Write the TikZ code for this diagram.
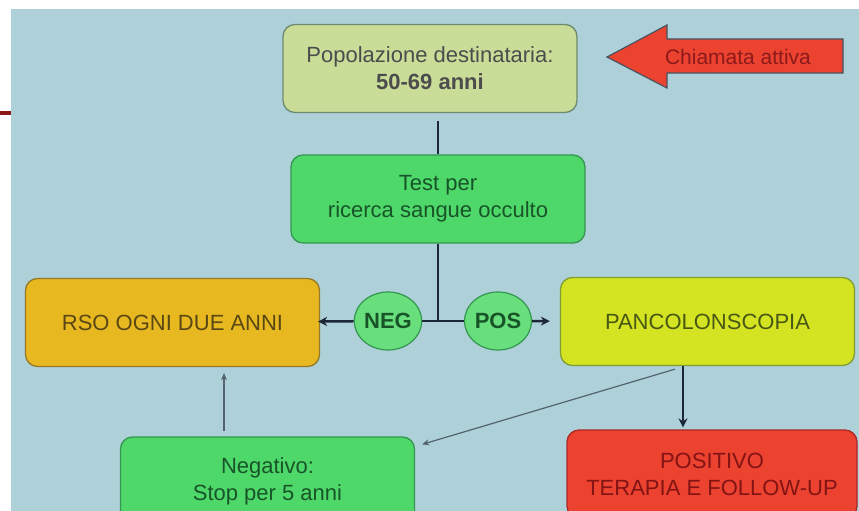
\documentclass[tikz,border=0pt]{standalone}
\usepackage{fontspec}
\setmainfont{Liberation Sans}
\usetikzlibrary{shapes.geometric,arrows.meta}
\definecolor{slide}{RGB}{174,209,217}
\definecolor{edge}{RGB}{28,40,56}
\definecolor{thinedge}{RGB}{84,98,110}
\definecolor{popfill}{RGB}{201,221,152}
\definecolor{popdraw}{RGB}{110,138,110}
\definecolor{greenfill}{RGB}{78,216,106}
\definecolor{greendraw}{RGB}{52,150,80}
\definecolor{greentext}{RGB}{24,84,40}
\definecolor{rsofill}{RGB}{232,184,32}
\definecolor{rsodraw}{RGB}{150,120,40}
\definecolor{rsotext}{RGB}{90,72,20}
\definecolor{pancofill}{RGB}{212,228,34}
\definecolor{pancodraw}{RGB}{130,156,50}
\definecolor{pancotext}{RGB}{72,88,20}
\definecolor{redfill}{RGB}{236,66,48}
\definecolor{reddraw}{RGB}{170,40,40}
\definecolor{redtext}{RGB}{130,20,20}
\definecolor{circlefill}{RGB}{104,222,124}
\definecolor{darkred}{RGB}{140,26,26}
\tikzset{
  box/.style={draw,line width=1.3pt,rounded corners=12pt,minimum width=294pt,minimum height=88pt,align=center,inner sep=0pt,font=\fontsize{22}{27}\selectfont},
  sign/.style={shape=ellipse,draw=greendraw,fill=circlefill,line width=1.2pt,minimum width=67pt,minimum height=58pt,inner sep=0pt,text=greentext,font=\fontsize{22}{27}\selectfont\bfseries},
  link/.style={draw=edge,line width=2.5pt},
  linkarrow/.style={link,-{Stealth[length=9pt,width=9pt]}},
  hint/.style={draw=thinedge,line width=1.2pt,-{Stealth[length=7pt,width=6pt]}}
}
\begin{document}
\begin{tikzpicture}[x=1pt,y=-1pt]
  \clip (0,0) rectangle (859,511);
  \fill[white] (0,0) rectangle (859,511);
  \fill[slide] (11,9) rectangle (859,511);
  \draw[darkred,line width=4pt] (0,113) -- (11,113);
  \draw[fill=redfill,draw=edge!80,line width=1.2pt]
    (607,57) -- (667,25) -- (667,39) -- (843,39) -- (843,73) -- (667,73) -- (667,88) -- cycle;
  \draw
    (430,68.5) node[box,fill=popfill,draw=popdraw,text=black!70] (pop){Popolazione destinataria:\\\textbf{50-69 anni}}
    (738,57) node[text=darkred,font=\fontsize{21}{25}\selectfont] (call){Chiamata attiva}
    (438,199) node[box,fill=greenfill,draw=greendraw,text=greentext] (test){Test per\\ricerca sangue occulto}
    (172.5,322.5) node[box,fill=rsofill,draw=rsodraw,text=rsotext] (rso){RSO OGNI DUE ANNI}
    (707.5,321.5) node[box,fill=pancofill,draw=pancodraw,text=pancotext] (panco){PANCOLONSCOPIA}
    (388,321) node[sign] (neg){NEG}
    (498,321) node[sign] (pos){POS}
    (267.5,481) node[box,fill=greenfill,draw=greendraw,text=greentext] (negativo){Negativo:\\Stop per 5 anni}
    (712,474) node[box,minimum width=290pt,fill=redfill,draw=reddraw,text=redtext] (positivo){POSITIVO\\TERAPIA E FOLLOW-UP};
  \coordinate (split) at (438,321);
  \begin{scope}
    \draw[link] ([xshift=8pt,yshift=-8pt]pop.south) -- (test.north);
    \draw[link] (test) -- (split);
    \draw[link] (neg) -- (pos);
    \draw[linkarrow,shorten >=-2pt] (neg) -- (rso);
    \draw[linkarrow,shorten >=10pt] (pos) -- (panco);
    \draw[linkarrow] ([xshift=-24.5pt]panco.south) -- ([xshift=-29pt,yshift=2pt]positivo.north);
    \draw[hint] ([xshift=-32.5pt,yshift=-3pt]panco.south) -- ([xshift=7pt,yshift=-8pt]negativo.north east);
    \draw[hint] ([xshift=-43.5pt,yshift=5pt]negativo.north) -- ([xshift=51.5pt,yshift=-6pt]rso.south);
  \end{scope}
\end{tikzpicture}
\end{document}
